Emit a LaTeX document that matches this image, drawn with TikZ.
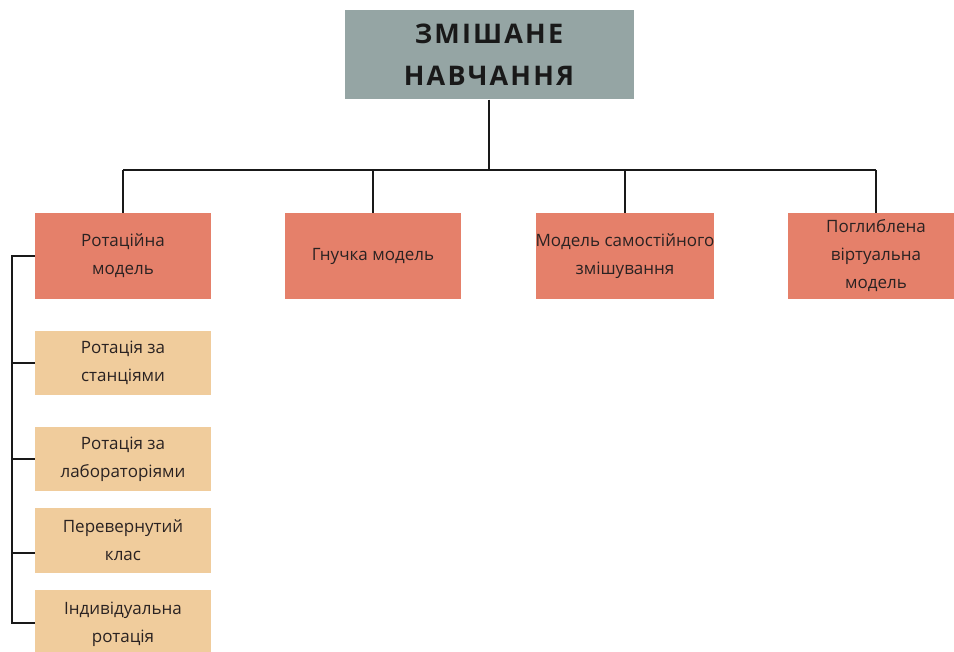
\documentclass[tikz,border=0pt]{standalone}
\usepackage{fontspec}
\setmainfont{Open Sans}
\definecolor{titlegray}{HTML}{95A5A4}
\definecolor{salmon}{HTML}{E5806A}
\definecolor{tan}{HTML}{F0CC9C}
\definecolor{txt}{HTML}{2A2222}
\tikzset{
  titlebox/.style={fill=titlegray, draw=none, minimum width=289, minimum height=89, inner sep=0pt, align=center, text=black!90,
    font=\fontsize{27}{42}\selectfont\bfseries\addfontfeatures{LetterSpace=8}},
  mainbox/.style={fill=salmon, draw=none, minimum width=176, minimum height=86, inner sep=0pt, align=center, text=txt,
    font=\fontsize{17}{28}\selectfont},
  subbox/.style={fill=tan, draw=none, minimum width=176, inner sep=0pt, align=center, text=txt,
    font=\fontsize{17}{28}\selectfont},
  conn/.style={draw=black!90, line width=2.1pt}
}
\begin{document}
\begin{tikzpicture}[x=1pt,y=-1pt]
\useasboundingbox[fill=white] (0,0) rectangle (954,652);
\node[titlebox] (title) at (489,55) {ЗМІШАНЕ\\НАВЧАННЯ};
\node[mainbox] (r1) at (123,256) {Ротаційна\\модель};
\node[mainbox] (r2) at (373,256) {Гнучка модель};
\node[mainbox] (r3) at (625,256) {Модель самостійного\\змішування};
\node[mainbox] (r4) at (876,256) {Поглиблена\\віртуальна\\модель};
\node[subbox, minimum height=64] (a) at (123,363) {Ротація за\\станціями};
\node[subbox, minimum height=64] (b) at (123,459) {Ротація за\\лабораторіями};
\node[subbox, minimum height=65] (c) at (123,540.5) {Перевернутий\\клас};
\node[subbox, minimum height=68] (d) at (123,624) {Індивідуальна\\ротація};
\coordinate (busL) at (123,170);
\coordinate (busR) at (876,170);
\coordinate (sp0) at (12,256);
\coordinate (sp1) at (12,363);
\coordinate (sp2) at (12,459);
\coordinate (sp3) at (12,553);
\coordinate (sp4) at (12,623);
\draw[conn] (busL) -- (busR);
\draw[conn] (title.south) -- (title.south |- busL);
\draw[conn] (busL) -- (r1.north);
\draw[conn] (r2.north |- busL) -- (r2.north);
\draw[conn] (r3.north |- busL) -- (r3.north);
\draw[conn] (busR) -- (r4.north);
\draw[conn] (r1.west) -- (sp0) -- (sp4) -- (sp4 -| d.west);
\draw[conn] (sp1) -- (sp1 -| a.west);
\draw[conn] (sp2) -- (sp2 -| b.west);
\draw[conn] (sp3) -- (sp3 -| c.west);
\end{tikzpicture}
\end{document}
